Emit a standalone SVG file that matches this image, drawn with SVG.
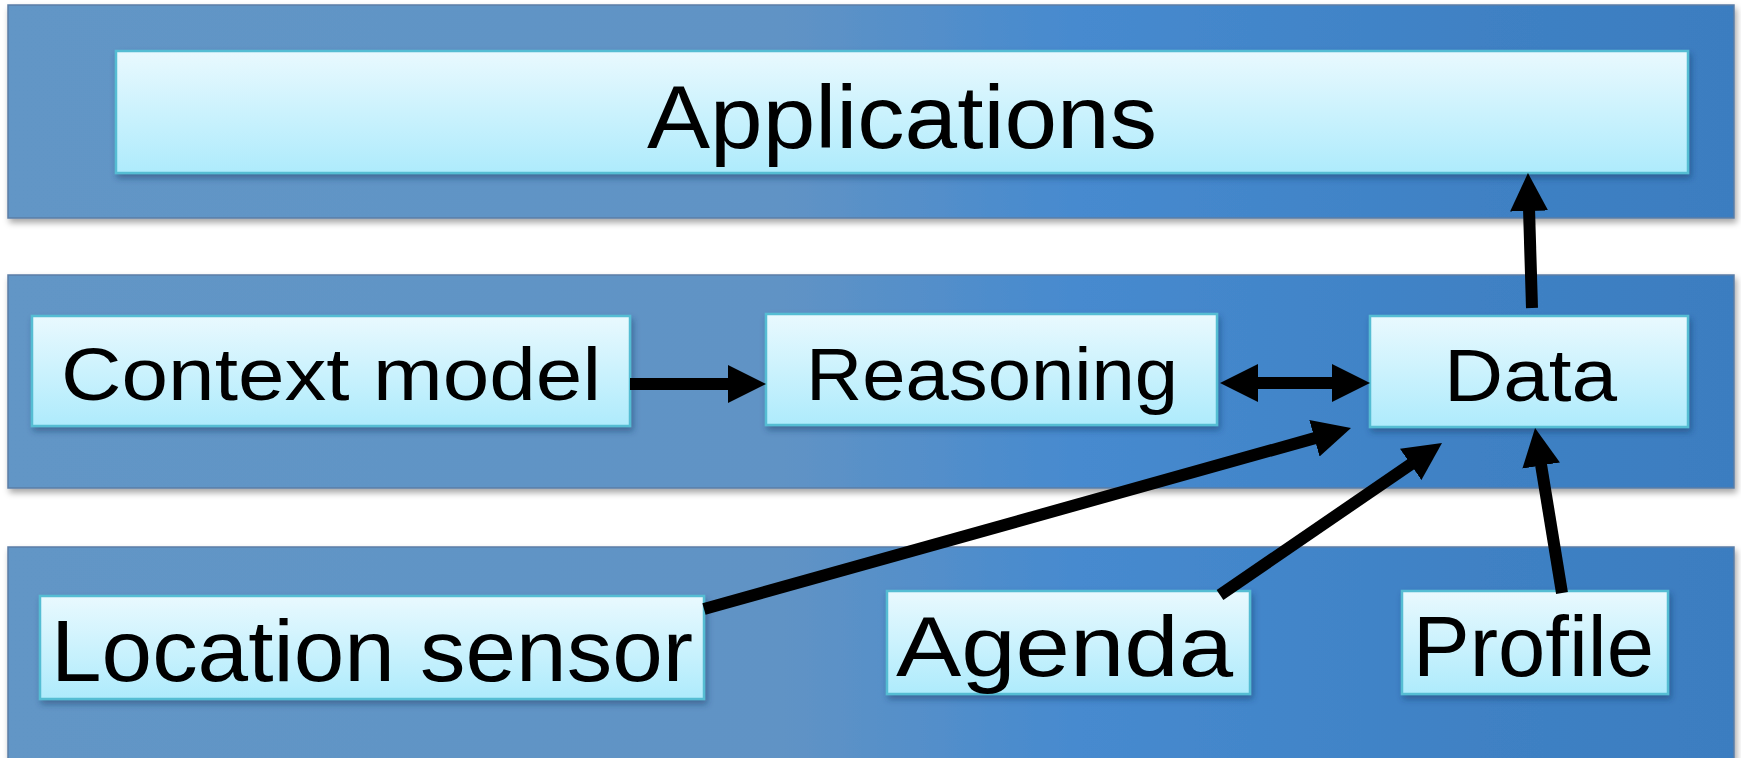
<svg xmlns="http://www.w3.org/2000/svg" width="1741" height="758" viewBox="0 0 1741 758">
  <defs>
    <linearGradient id="bandFill" x1="0" y1="0" x2="1741" y2="0" gradientUnits="userSpaceOnUse">
      <stop offset="0" stop-color="#6296c6"/>
      <stop offset="0.45" stop-color="#6093c5"/>
      <stop offset="0.62" stop-color="#468acf"/>
      <stop offset="0.85" stop-color="#3f81c4"/>
      <stop offset="1" stop-color="#3b7dc0"/>
    </linearGradient>
    <linearGradient id="boxFill" x1="0" y1="0" x2="0" y2="1">
      <stop offset="0" stop-color="#e9f9fe"/>
      <stop offset="1" stop-color="#aeebfc"/>
    </linearGradient>
    <filter id="bandShadow" x="-5%" y="-10%" width="110%" height="130%">
      <feDropShadow dx="2" dy="4" stdDeviation="3" flood-color="#000" flood-opacity="0.35"/>
    </filter>
    <filter id="boxShadow" x="-5%" y="-10%" width="110%" height="130%">
      <feDropShadow dx="2" dy="4" stdDeviation="3" flood-color="#14365e" flood-opacity="0.45"/>
    </filter>
    <marker id="ah" viewBox="0 0 38 38" refX="6" refY="19" markerWidth="38" markerHeight="38" markerUnits="userSpaceOnUse" orient="auto-start-reverse">
      <path d="M0,0 L38,19 L0,38 z" fill="#000"/>
    </marker>
    <style>
      .band { fill: url(#bandFill); stroke: #5b7ea6; stroke-width: 1.5; filter: url(#bandShadow); }
      .box { fill: url(#boxFill); stroke: #55bdd3; stroke-width: 2.5; filter: url(#boxShadow); }
      .lbl { font-family: "Liberation Sans", Arial, sans-serif; fill: #000; }
      .conn { stroke: #000; stroke-width: 12; fill: none; marker-end: url(#ah); }
    </style>
  </defs>

  <g id="layers">
    <rect id="band-top" class="band" x="8" y="5" width="1726" height="213"/>
    <rect id="band-middle" class="band" x="8" y="275" width="1726" height="213"/>
    <rect id="band-bottom" class="band" x="8" y="547" width="1726" height="230"/>
  </g>

  <g id="applications">
    <rect class="box" x="116" y="51" width="1572" height="122"/>
    <text class="lbl" x="647" y="148" font-size="89" textLength="510" lengthAdjust="spacingAndGlyphs">Applications</text>
  </g>

  <g id="context-model">
    <rect class="box" x="32" y="316" width="598" height="110"/>
    <text class="lbl" x="61" y="400" font-size="75" textLength="540" lengthAdjust="spacingAndGlyphs">Context model</text>
  </g>

  <g id="reasoning">
    <rect class="box" x="766" y="314" width="451" height="111"/>
    <text class="lbl" x="806" y="400" font-size="75" textLength="372" lengthAdjust="spacingAndGlyphs">Reasoning</text>
  </g>

  <g id="data">
    <rect class="box" x="1370" y="316" width="318" height="111"/>
    <text class="lbl" x="1444" y="401" font-size="75" textLength="173" lengthAdjust="spacingAndGlyphs">Data</text>
  </g>

  <g id="location-sensor">
    <rect class="box" x="40" y="596" width="664" height="103"/>
    <text class="lbl" x="51" y="681" font-size="88" textLength="642" lengthAdjust="spacingAndGlyphs">Location sensor</text>
  </g>

  <g id="agenda">
    <rect class="box" x="887" y="591" width="363" height="103"/>
    <text class="lbl" x="896" y="676" font-size="85" textLength="337" lengthAdjust="spacingAndGlyphs">Agenda</text>
  </g>

  <g id="profile">
    <rect class="box" x="1402" y="591" width="266" height="103"/>
    <text class="lbl" x="1413" y="676" font-size="85" textLength="241" lengthAdjust="spacingAndGlyphs">Profile</text>
  </g>

  <g id="connectors">
    <line class="conn" x1="630" y1="384" x2="734" y2="384"/>
    <line class="conn" x1="1252" y1="383" x2="1338" y2="383" marker-start="url(#ah)"/>
    <line class="conn" x1="1532" y1="308" x2="1528.9" y2="205"/>
    <line class="conn" x1="704" y1="609" x2="1320.2" y2="436.6"/>
    <line class="conn" x1="1220" y1="595" x2="1415.6" y2="461"/>
    <line class="conn" x1="1562" y1="593" x2="1540.2" y2="459.6"/>
  </g>
</svg>
